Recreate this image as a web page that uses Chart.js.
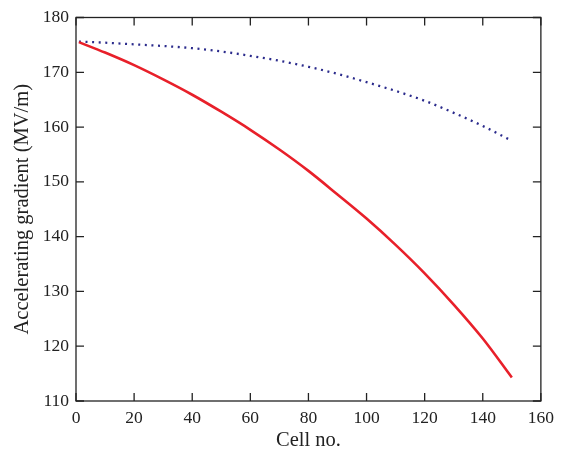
<!DOCTYPE html>
<html>
<head>
<meta charset="utf-8">
<script src="https://cdn.jsdelivr.net/npm/chart.js@4/dist/chart.umd.min.js"></script>
<style>
  html, body { margin: 0; padding: 0; background: #fff; }
  #wrap { width: 561px; height: 453px; }
</style>
</head>
<body>
<div id="wrap"><canvas id="gradChart"></canvas></div>
<script>
'use strict';

// values
var cells = [1, 10, 20, 30, 40, 50, 60, 70, 80, 90, 100, 110, 120, 130, 140, 150];
var solidGradient = [175.5, 173.6, 171.3, 168.7, 165.9, 162.8, 159.5, 155.9, 152.0, 147.7, 143.3, 138.5, 133.3, 127.6, 121.4, 114.3];
var dottedGradient = [175.6, 175.4, 175.1, 174.8, 174.4, 173.8, 173.0, 172.1, 171.0, 169.7, 168.2, 166.6, 164.8, 162.6, 160.2, 157.5];
var xTicks = [0, 20, 40, 60, 80, 100, 120, 140, 160];
var yTicks = [110, 120, 130, 140, 150, 160, 170, 180];

function toPoints(xs, ys) {
    return xs.map(function (x, i) { return { x: x, y: ys[i] }; });
}

var fontFamily = '"Liberation Serif", "DejaVu Serif", serif';

// frame + inward ticks on all four sides
var framePlugin = {
    id: 'frame',
    afterDraw: function (chart) {
        var ctx = chart.ctx;
        var a = chart.chartArea;
        var xs = chart.scales.x, ys = chart.scales.y;
        var len = 8;
        ctx.save();
        ctx.strokeStyle = '#222';
        ctx.lineWidth = 1.3;
        ctx.strokeRect(a.left, a.top, a.right - a.left, a.bottom - a.top);
        ctx.beginPath();
        xTicks.forEach(function (v) {
            var px = xs.getPixelForValue(v);
            ctx.moveTo(px, a.bottom); ctx.lineTo(px, a.bottom - len);
            ctx.moveTo(px, a.top); ctx.lineTo(px, a.top + len);
        });
        yTicks.forEach(function (v) {
            var py = ys.getPixelForValue(v);
            ctx.moveTo(a.left, py); ctx.lineTo(a.left + len, py);
            ctx.moveTo(a.right, py); ctx.lineTo(a.right - len, py);
        });
        ctx.stroke();
        ctx.restore();
    }
};

var ctx = document.getElementById('gradChart').getContext('2d');
var gradChart = new Chart(ctx, {
    type: 'scatter',
    data: {
        datasets: [
            {
                label: 'solid',
                data: toPoints(cells, solidGradient),
                showLine: true,
                borderColor: '#e8202a',
                borderWidth: 2.6,
                pointRadius: 0,
                cubicInterpolationMode: 'monotone'
            },
            {
                label: 'dotted',
                data: toPoints(cells, dottedGradient),
                showLine: true,
                borderColor: '#2b2b8c',
                borderWidth: 2.3,
                borderDash: [2, 4.6],
                pointRadius: 0,
                cubicInterpolationMode: 'monotone'
            }
        ]
    },
    options: {
        responsive: true,
        maintainAspectRatio: false,
        animation: false,
        layout: { padding: { left: 0, right: 18, top: 16, bottom: 0 } },
        plugins: {
            legend: { display: false },
            tooltip: { enabled: false }
        },
        scales: {
            x: {
                type: 'linear',
                min: 0,
                max: 160,
                afterBuildTicks: function (scale) {
                    scale.ticks = xTicks.map(function (v) { return { value: v }; });
                },
                afterFit: function (scale) { scale.height = 52; },
                grid: { display: false, drawTicks: false },
                border: { display: false },
                ticks: {
                    padding: 7,
                    color: '#222',
                    font: { family: fontFamily, size: 17.5 }
                },
                title: {
                    display: true,
                    text: 'Cell no.',
                    color: '#222',
                    font: { family: fontFamily, size: 20.5 },
                    padding: { top: 0, bottom: 0 }
                }
            },
            y: {
                type: 'linear',
                min: 110,
                max: 180,
                afterBuildTicks: function (scale) {
                    scale.ticks = yTicks.map(function (v) { return { value: v }; });
                },
                afterFit: function (scale) { scale.width = 76; },
                grid: { display: false, drawTicks: false },
                border: { display: false },
                ticks: {
                    padding: 7,
                    color: '#222',
                    font: { family: fontFamily, size: 17.5 }
                },
                title: {
                    display: true,
                    text: 'Accelerating gradient (MV/m)',
                    color: '#222',
                    font: { family: fontFamily, size: 20.5 },
                    padding: { top: 10, bottom: 0 }
                }
            }
        }
    },
    plugins: [framePlugin]
});
</script>
</body>
</html>
